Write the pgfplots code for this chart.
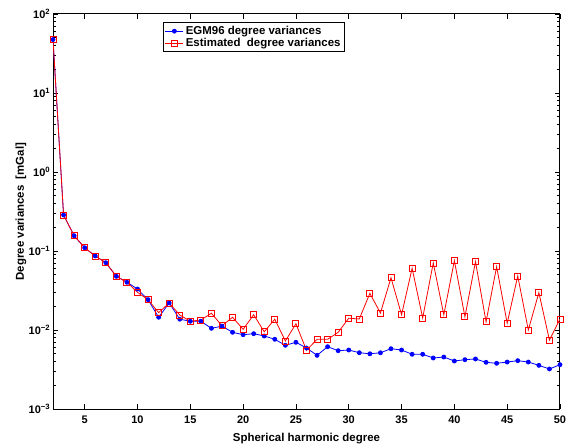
\documentclass[border=0pt]{standalone}
\usepackage{pgfplots}
\pgfplotsset{compat=1.18}
\usepackage{fontspec}
\setmainfont{Liberation Sans}
\definecolor{mred}{RGB}{255,0,0}
\definecolor{mblue}{RGB}{0,0,255}
\pgfplotstableread{
deg egm est
2 47.5 47.5
3 0.286 0.286
4 0.156 0.156
5 0.110 0.110
6 0.0865 0.0865
7 0.0711 0.0711
8 0.0478 0.0478
9 0.0402 0.0402
10 0.0330 0.0300
11 0.0242 0.0242
12 0.0145 0.0166
13 0.0220 0.0220
14 0.0137 0.0155
15 0.0129 0.0129
16 0.0129 0.0134
17 0.0105 0.0163
18 0.0112 0.0113
19 0.00935 0.0145
20 0.00872 0.0102
21 0.00898 0.0156
22 0.0084 0.0095
23 0.00763 0.0137
24 0.0064 0.00726
25 0.00699 0.0120
26 0.00592 0.00553
27 0.00478 0.00763
28 0.00615 0.00763
29 0.00547 0.00935
30 0.00558 0.0141
31 0.00516 0.0138
32 0.0050 0.0291
33 0.00515 0.0164
34 0.0058 0.0459
35 0.00558 0.0156
36 0.00493 0.0604
37 0.00493 0.0142
38 0.00442 0.0705
39 0.00455 0.0156
40 0.00405 0.0754
41 0.00421 0.0147
42 0.0043 0.0732
43 0.0039 0.0127
44 0.00379 0.0633
45 0.00393 0.0122
46 0.00409 0.0483
47 0.00393 0.0100
48 0.00357 0.0297
49 0.00321 0.00747
50 0.00364 0.0138
}\datatable
\begin{document}
\fontsize{11}{13}\selectfont\bfseries
\begin{tikzpicture}
\useasboundingbox (-53bp,-37bp) rectangle (515bp,409bp);
\begin{semilogyaxis}[
  at={(0,0)}, anchor=south west,
  scale only axis, width=507bp, height=395bp,
  xmin=2, xmax=50, ymin=1e-3, ymax=1e2,
  xtick={5,10,...,50},
  ytick={1e-3,1e-2,1e-1,1,10,100},
  yticklabels={10\textsuperscript{−3},10\textsuperscript{−2},10\textsuperscript{−1},10\textsuperscript{0},10\textsuperscript{1},10\textsuperscript{2}},
  /pgf/number format/assume math mode=true,
  ticklabel style={font=\fontsize{11}{13}\selectfont\bfseries},
  xticklabel style={yshift=-3bp},
  yticklabel style={xshift=1bp},
  axis line style={line width=1bp},
  major tick length=5bp, minor tick length=3bp,
  every tick/.style={black, line width=0.6bp},
  tick align=inside,
  xlabel={Spherical harmonic degree},
  ylabel={Degree variances~ [mGal]},
  label style={font=\fontsize{11.5}{13}\selectfont\bfseries},
  xlabel style={yshift=-2bp},
  ylabel style={yshift=-5bp},
  legend style={at={(0.217,0.979)}, anchor=north west, draw=black, line width=0.8bp,
    font=\fontsize{11.5}{13}\selectfont\bfseries, inner sep=1.5bp, row sep=-2bp,
    legend cell align=left},
  legend image code/.code={\draw[mark repeat=2,mark phase=2] plot coordinates {(0cm,0cm)(0.32cm,0cm)(0.64cm,0cm)};},
]
\addplot[color=mblue, line width=0.8bp, mark=*, mark size=2bp, mark options={solid, fill=mblue, draw=mblue}] table[x=deg, y=egm] {\datatable};
\addlegendentry{EGM96 degree variances}
\addplot[color=mred, line width=0.8bp, mark=square, mark size=3bp, mark options={solid, draw=mred, fill=none, line width=0.9bp}] table[x=deg, y=est] {\datatable};
\addlegendentry{Estimated~ degree variances}
\end{semilogyaxis}
\end{tikzpicture}
\end{document}
